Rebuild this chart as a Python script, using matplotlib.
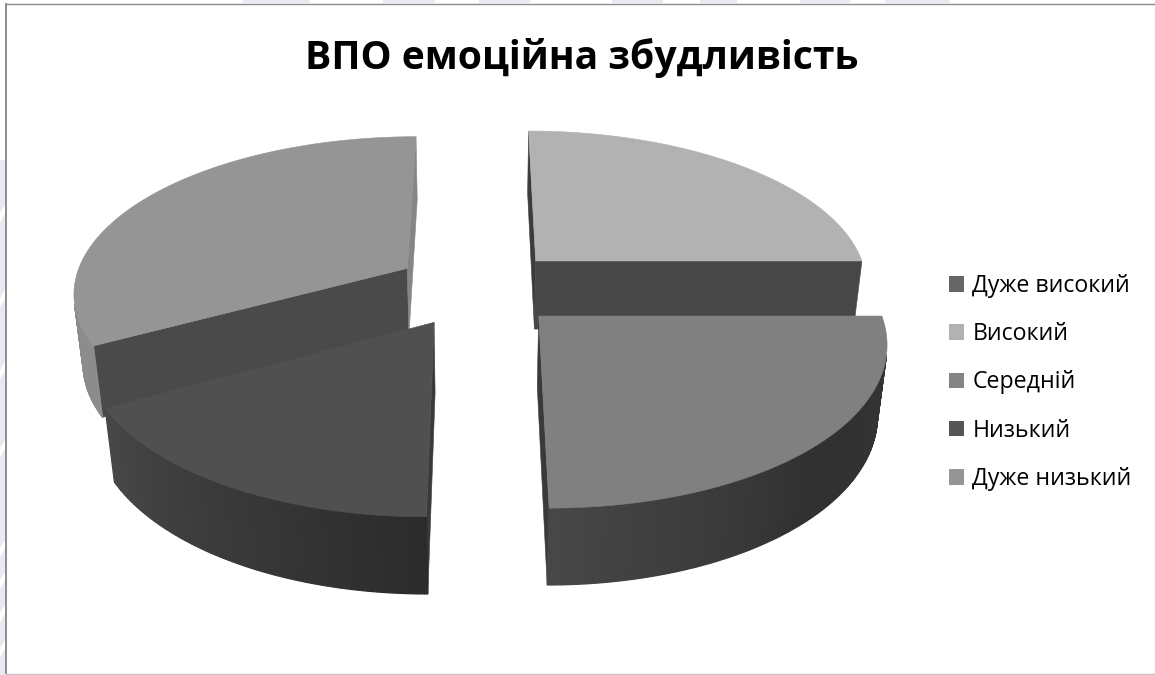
"""3D exploded pie chart, drawn as projected polygons on a pixel-sized axes."""

import numpy as np
import matplotlib
matplotlib.use("Agg")
import matplotlib.pyplot as plt
from matplotlib.patches import Patch, Polygon

categories = ["Дуже високий", "Високий", "Середній", "Низький", "Дуже низький"]
values = [0, 25, 25, 17, 33]
title = "ВПО емоційна збудливість"

# face colours per slice
top_colors = ["#666666", "#b2b2b2", "#808080", "#505050", "#959595"]
legend_colors = ["#666666", "#b2b2b2", "#848484", "#555555", "#959595"]
start_cut = ["#404040", "#3c3c3c", "#2e2e2e", "#3a3a3a", "#4a4a4a"]
end_cut = ["#404040", "#474747", "#3a3a3a", "#3a3a3a", "#868686"]
# (angle, grey) stops for the curved rim
rim_angle = [0, 90, 135, 180, 180.01, 241.1, 241.3, 360]
rim_grey = [0.30, 0.21, 0.19, 0.28, 0.17, 0.28, 0.55, 0.55]

# perspective camera, in figure pixels
CX, HORIZON, PLANE, SCALE = 478.0, -800.0, 1087.8, 334.5
K, M, DROP = 0.1431, 0.023, 95.8
EXPLODE = 0.25


def project(x, y, z):
    w = 1 + K * y + M * z
    return CX + SCALE * x / w, HORIZON + (PLANE + DROP * z) / w


def signed_area(pts):
    x, y = pts[:, 0], pts[:, 1]
    return 0.5 * np.sum(x * np.roll(y, -1) - np.roll(x, -1) * y)


def face(ax, pts, color, lw=0.4):
    # only faces turned towards the camera get drawn
    if signed_area(pts) < 0:
        ax.add_patch(Polygon(pts, closed=True, fc=color, ec=color, lw=lw))


def draw_slice(ax, a0, a1, color, c_start, c_end):
    mid = np.radians((a0 + a1) / 2)
    ox, oy = EXPLODE * np.sin(mid), EXPLODE * np.cos(mid)
    th = np.radians(np.linspace(a0, a1, int(a1 - a0) * 2 + 2))
    px, py = ox + np.sin(th), oy + np.cos(th)

    top = np.array(project(px, py, 0)).T
    low = np.array(project(px, py, 1)).T
    apex_t = np.array(project(ox, oy, 0))
    apex_l = np.array(project(ox, oy, 1))

    # flat cut at the start of the slice, then the one at its end
    face(ax, np.array([apex_t, top[0], low[0], apex_l]), c_start)
    face(ax, np.array([top[-1], apex_t, apex_l, low[-1]]), c_end)

    # rim, split in short strips so the grey can vary with the angle
    deg = np.degrees(th)
    for i in range(len(th) - 1):
        g = np.interp((deg[i] + deg[i + 1]) / 2, rim_angle, rim_grey)
        strip = np.array([top[i], top[i + 1], low[i + 1], low[i]])
        face(ax, strip, (g, g, g), lw=0.9)

    ax.add_patch(Polygon(np.vstack([apex_t, top]), closed=True, fc=color, ec=color, lw=0.4))


plt.rcParams["font.family"] = ["Open Sans", "DejaVu Sans"]
fig = plt.figure(figsize=(11.55, 6.75), dpi=100)
ax = fig.add_axes([0, 0, 1, 1])
ax.set_xlim(0, 1155)
ax.set_ylim(675, 0)
ax.axis("off")

# pale page behind the chart frame
ax.add_patch(plt.Rectangle((0, 160), 5, 515, fc="#e8eaf1", ec="none"))
for y0 in [205, 290, 362, 440, 540, 572, 605, 640]:
    ax.fill([0, 5, 5, 0], [y0 + 8, y0, y0 + 9, y0 + 17], color="white", lw=0)
for x0, x1 in [(243, 310), (383, 435), (479, 530), (612, 663), (700, 737), (800, 850), (885, 950)]:
    ax.add_patch(plt.Rectangle((x0, 0), x1 - x0, 3, fc="#e8eaf1", ec="none"))

# chart frame: left and top dark, bottom lighter, open on the right
ax.plot([5.5, 5.5], [3.5, 673], color="#8c8c8c", lw=1.4)
ax.plot([5.5, 1155], [3.5, 3.5], color="#8c8c8c", lw=1.0)
ax.plot([5.5, 1155], [673.5, 673.5], color="#c4c4c4", lw=1.0)

ends = np.cumsum(values) / np.sum(values) * 360
starts = ends - np.array(values) / np.sum(values) * 360

# back slices first so the front ones cover them
for i in sorted(range(len(values)), key=lambda j: -np.cos(np.radians((starts[j] + ends[j]) / 2))):
    if values[i] > 0:
        draw_slice(ax, starts[i], ends[i], top_colors[i], start_cut[i], end_cut[i])

ax.text(582, 58, title, ha="center", va="center", fontsize=28.2, fontweight="bold", color="black")

handles = [Patch(fc=c, ec="none") for c in legend_colors]
ax.legend(handles, categories, loc="center left", bbox_to_anchor=(949, 382.5),
          bbox_transform=ax.transData, frameon=False, fontsize=16.7,
          handlelength=0.65, handleheight=0.65, handletextpad=0.36,
          labelspacing=1.045, borderpad=0, borderaxespad=0)

fig.savefig("out.png", dpi=100, facecolor="white")
